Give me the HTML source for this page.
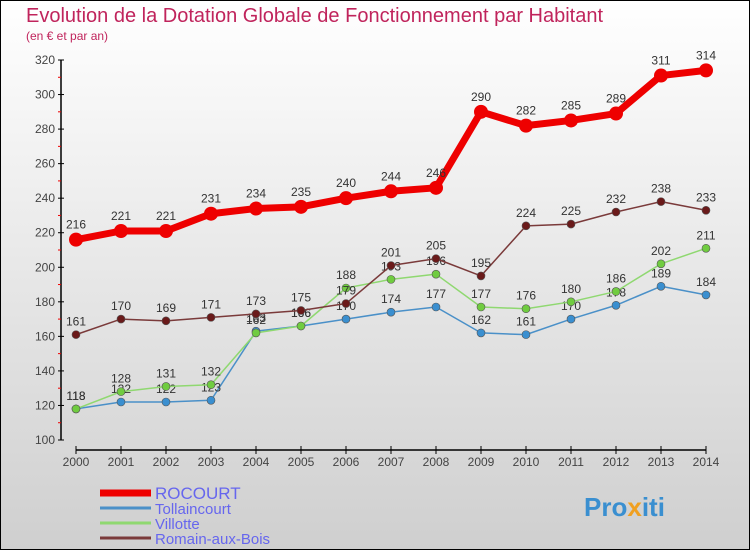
<!DOCTYPE html>
<html><head><meta charset="utf-8"><style>
body{margin:0}
svg{display:block}
text{font-family:"Liberation Sans",sans-serif}
</style></head><body>
<svg id="c" width="750" height="550" viewBox="0 0 750 550">
<defs><linearGradient id="bg" x1="0" y1="0" x2="0" y2="1"><stop offset="0" stop-color="#ffffff"/><stop offset="1" stop-color="#cfcfcf"/></linearGradient></defs>
<rect x="0.5" y="0.5" width="749" height="549" fill="url(#bg)" stroke="#000"/>
<text x="26" y="22" font-size="20" fill="#c0245c">Evolution de la Dotation Globale de Fonctionnement par Habitant</text>
<text x="26" y="40" font-size="12" fill="#c0245c">(en € et par an)</text>
<g id="axes"></g>
<g id="series"></g>
<g id="legend"></g>
<text x="584" y="516" font-size="26" font-weight="bold" fill="#3a8fd0">Pro<tspan fill="#f0a020">x</tspan>iti</text>
</svg>
<script>
const years=[2000,2001,2002,2003,2004,2005,2006,2007,2008,2009,2010,2011,2012,2013,2014];
const yTicks=[100,120,140,160,180,200,220,240,260,280,300,320];
const names=["ROCOURT","Tollaincourt","Villotte","Romain-aux-Bois"];
const rocourt=[216,221,221,231,234,235,240,244,246,290,282,285,289,311,314];
const tollaincourt=[118,122,122,123,163,166,170,174,177,162,161,170,178,189,184];
const villotte=[118,128,131,132,162,166,188,193,196,177,176,180,186,202,211];
const romain=[161,170,169,171,173,175,179,201,205,195,224,225,232,238,233];
const NS="http://www.w3.org/2000/svg";
function X(i){return 76+i*45;}
function Y(v){return 440-(v-100)*380/220;}
function mk(t,a,p){const e=document.createElementNS(NS,t);for(const k in a)e.setAttribute(k,a[k]);p.appendChild(e);return e;}
const ax=document.getElementById('axes');
let e=mk('line',{x1:61,y1:Y(320),x2:61,y2:440,stroke:'#000','stroke-width':1.5},ax);


yTicks.forEach((v,i)=>{
 mk('line',{x1:58,y1:Y(v),x2:64,y2:Y(v),stroke:'#000'},ax);
 if(i<yTicks.length-1)mk('line',{x1:58,y1:Y(v+10),x2:61,y2:Y(v+10),stroke:'#e00'},ax);
 const t=mk('text',{x:55,y:Y(v)+4,'font-size':12,fill:'#444','text-anchor':'end'},ax);
 t.textContent=v;
 
 
});
e=mk('line',{x1:X(0),y1:450,x2:X(14),y2:450,stroke:'#000','stroke-width':1.5},ax);


years.forEach((y,i)=>{
 mk('line',{x1:X(i),y1:446,x2:X(i),y2:454,stroke:'#000'},ax);
 const t=mk('text',{x:X(i),y:466,'font-size':12,fill:'#444','text-anchor':'middle'},ax);
 t.textContent=y;
 
 
});
const sg=document.getElementById('series');
const defs=[[rocourt,'#ee0000',7,7,'#ee0000'],[tollaincourt,'#4a90c8',1.5,4,'#3a8fd0'],[villotte,'#8fd870',1.5,4,'#70cc40'],[romain,'#7a3a3a',1.5,4,'#6a1a1a']];
const slugs=['rocourt','tollaincourt','villotte','romain-aux-bois'];
defs.forEach((d,s)=>{
 const g=mk('g',{},sg);
 
 
 const pts=d[0].map((v,i)=>X(i)+','+Y(v)).join(' ');
 mk('polyline',{points:pts,fill:'none',stroke:d[1],'stroke-width':d[2],'stroke-linejoin':'round'},g);
 d[0].forEach((v,i)=>{
  const c=mk('circle',{cx:X(i),cy:Y(v),r:d[3],fill:d[4],stroke:s?'#555':'none','stroke-width':0.6},g);
  
  
  const t=mk('text',{x:X(i),y:Y(v)-(s?9:11),'font-size':12,fill:'#333','text-anchor':'middle'},g);
  t.textContent=v;
  
  
 });
});
const lg=document.getElementById('legend');
defs.forEach((d,s)=>{
 const y=493+s*15;
 const g=mk('g',{},lg);
 
 
 mk('line',{x1:100,y1:y,x2:151,y2:y,stroke:d[1],'stroke-width':s?3:7},g);
 const t=mk('text',{x:155,y:y+6,'font-size':s?15:17,fill:'#6666ee'},g);
 t.textContent=names[s];
});
</script>
</body></html>
